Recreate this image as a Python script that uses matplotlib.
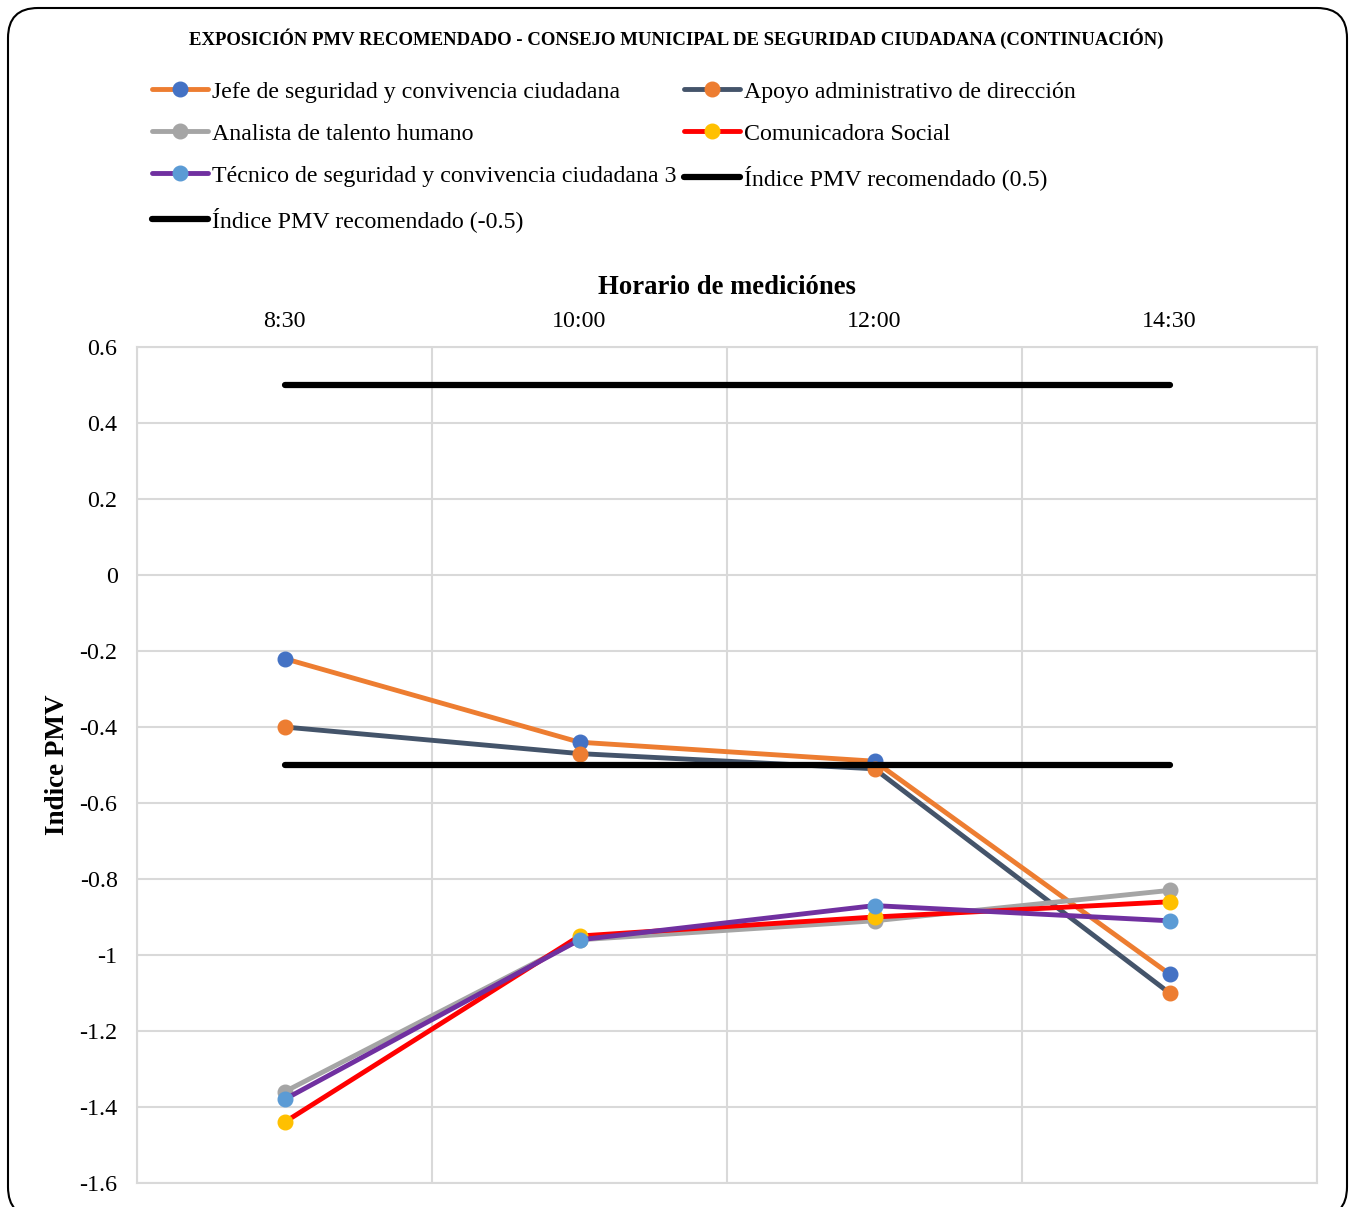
import matplotlib
matplotlib.use("Agg")
import matplotlib.pyplot as plt
from matplotlib.patches import FancyBboxPatch

plt.rcParams['font.family'] = ['Liberation Serif', 'DejaVu Serif']

# Measurement times and PMV index per role
horarios = ["8:30", "10:00", "12:00", "14:30"]
jefe_seguridad = [-0.22, -0.44, -0.49, -1.05]
apoyo_administrativo = [-0.40, -0.47, -0.51, -1.10]
analista_talento = [-1.36, -0.96, -0.91, -0.83]
comunicadora_social = [-1.44, -0.95, -0.90, -0.86]
tecnico_seguridad = [-1.38, -0.96, -0.87, -0.91]
pmv_superior = [0.5, 0.5, 0.5, 0.5]
pmv_inferior = [-0.5, -0.5, -0.5, -0.5]

y_ticks = [0.6, 0.4, 0.2, 0, -0.2, -0.4, -0.6, -0.8, -1, -1.2, -1.4, -1.6]
y_tick_labels = ["0.6", "0.4", "0.2", "0", "-0.2", "-0.4", "-0.6", "-0.8", "-1", "-1.2", "-1.4", "-1.6"]

W, H, DPI = 1355, 1207, 100
fig = plt.figure(figsize=(W / DPI, H / DPI), dpi=DPI)

# Rounded frame around the whole chart
frame = FancyBboxPatch((8 / DPI + 0.3, 0.3 - 10 / DPI), (1339 / DPI) - 0.6, (H - 8 + 10) / DPI - 0.6,
                       boxstyle="round,pad=0.3", transform=fig.dpi_scale_trans,
                       fill=False, edgecolor="black", linewidth=1.5, clip_on=False)
fig.patches.append(frame)

ax = fig.add_axes([137 / W, 1 - 1183 / H, (1317 - 137) / W, (1183 - 347) / H])

x = list(range(len(horarios)))
series = [
    ("Jefe de seguridad y convivencia ciudadana", jefe_seguridad, "#ED7D31", "#4472C4"),
    ("Apoyo administrativo de dirección", apoyo_administrativo, "#44546A", "#ED7D31"),
    ("Analista de talento humano", analista_talento, "#A5A5A5", "#A5A5A5"),
    ("Comunicadora Social", comunicadora_social, "#FF0000", "#FFC000"),
    ("Técnico de seguridad y convivencia ciudadana 3", tecnico_seguridad, "#7030A0", "#5B9BD5"),
]
handles = []
for i, (name, vals, lc, mc) in enumerate(series):
    h, = ax.plot(x, vals, color=lc, linewidth=3.5, marker="o", markersize=10.5,
                 markerfacecolor=mc, markeredgecolor=mc, label=name, zorder=3 + i,
                 solid_capstyle="round", clip_on=False)
    handles.append(h)

h_sup, = ax.plot(x, pmv_superior, color="black", linewidth=4.5, solid_capstyle="round",
                 label="Índice PMV recomendado (0.5)", zorder=10)
h_inf, = ax.plot(x, pmv_inferior, color="black", linewidth=4.5, solid_capstyle="round",
                 label="Índice PMV recomendado (-0.5)", zorder=11)

ax.set_xlim(-0.5, 3.5)
ax.set_ylim(-1.6, 0.6)
ax.set_yticks(y_ticks)
ax.set_yticklabels(y_tick_labels)
ax.set_xticks(x)
ax.set_xticklabels(horarios)
ax.set_xticks([-0.5, 0.5, 1.5, 2.5, 3.5], minor=True)
ax.xaxis.tick_top()
ax.xaxis.set_label_position("top")
ax.tick_params(axis="both", which="both", length=0, labelsize=17.3)
ax.tick_params(axis="x", pad=10.5)
ax.tick_params(axis="y", pad=14)
ax.grid(True, axis="y", color="#D9D9D9", linewidth=1.5)
ax.grid(True, axis="x", which="minor", color="#D9D9D9", linewidth=1.5)
ax.grid(False, axis="x", which="major")
for s in ax.spines.values():
    s.set_color("#D9D9D9")
    s.set_linewidth(1.5)
ax.set_axisbelow(True)

ax.set_xlabel("Horario de mediciónes", fontsize=19.2, fontweight="bold", labelpad=12.5)
ax.set_ylabel("Indice PMV", fontsize=19.5, fontweight="bold", labelpad=7)

fig.text(0.5 * (190 + 1163) / W, 1 - 39 / H,
         "EXPOSICIÓN PMV RECOMENDADO - CONSEJO MUNICIPAL DE SEGURIDAD CIUDADANA (CONTINUACIÓN)",
         ha="center", va="center", fontsize=13.5, fontweight="bold")

# Legend laid out row by row in two columns
order = [handles[0], handles[2], handles[4], h_inf, handles[1], handles[3], h_sup]
leg = fig.legend(handles=order, labels=[h.get_label() for h in order], ncol=2,
                 loc="upper left", bbox_to_anchor=(152 / W, 1 - 81 / H),
                 frameon=False, fontsize=17.2, handlelength=2.34, handletextpad=0.17,
                 columnspacing=0.3, labelspacing=0.85, borderaxespad=0, borderpad=0)

fig.savefig("out.png", dpi=DPI)
